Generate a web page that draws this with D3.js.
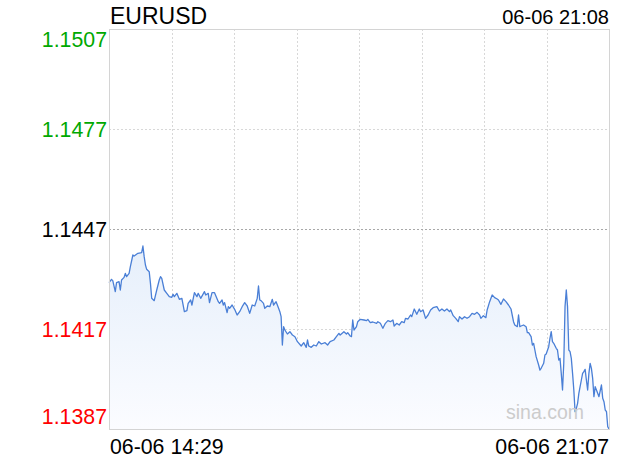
<!DOCTYPE html>
<html><head><meta charset="utf-8">
<script src="https://cdn.jsdelivr.net/npm/d3@7"></script>
<style>body{margin:0;background:#fff}svg{display:block}text{font-family:"Liberation Sans",Arial,sans-serif}</style>
</head><body><svg id="c" width="620" height="460"></svg>
<script>
const title = "EURUSD";
const stampTop = "06-06 21:08";
const xLabels = ["06-06 14:29", "06-06 21:07"];
const yTicks = [1.1507, 1.1477, 1.1447, 1.1417, 1.1387];
const prevClose = 1.1447;
const totalMinutes = 398;
// minute offset from 14:29
const minutes = [0,2,3,5,6,8,9,10,12,13,14,16,17,19,20,23,26,27,28,29,30,32,33,34,36,38,40,41,42,44,46,48,50,51,52,54,56,58,60,62,63,65,66,68,70,71,73,76,77,
79,80,82,84,87,88,90,91,92,94,95,96,98,100,102,104,106,108,110,112,114,116,118,119,120,121,123,124,126,128,130,131,133,135,136,137,138,139,140,142,144,146,148,150,153,155,
157,158,159,161,163,165,167,169,172,174,176,179,181,183,184,187,189,190,192,193,194,195,197,198,200,203,205,206,208,210,213,214,216,218,220,222,224,226,227,229,231,233,235,
236,238,240,241,243,245,247,248,250,252,254,256,258,261,263,265,267,269,271,272,274,276,278,279,281,283,285,287,289,291,293,295,296,298,300,301,303,305,307,309,310,312,314,316,318,320,322,323,
325,326,327,328,330,332,333,334,336,337,338,339,340,342,343,344,346,347,348,350,351,352,353,354,356,357,358,359,360,361,362,363,364,365,366,367,368,369,370,371,372,373,374,375,376,377,378,379,380,381,382,383,384,385,386,387,389,390,392,393,394,395,396,397,398];
const prices = [1.14309,1.14319,1.14315,1.14282,1.14309,1.14312,1.14287,1.14317,1.14325,1.14337,1.14327,1.14337,1.14357,1.14392,1.14389,1.14397,1.14399,1.14419,1.14387,1.14362,1.14349,1.14342,1.14307,1.14262,1.14255,1.14287,1.14317,1.14327,1.14322,1.14287,1.14277,1.14267,1.14265,1.14274,1.14267,1.14277,1.14259,1.14262,1.14222,1.14225,1.14247,1.14257,1.14242,1.14279,1.14267,1.14277,1.14262,1.14282,1.14272,
1.14277,1.14249,1.14279,1.14279,1.14252,1.14247,1.14257,1.14242,1.14249,1.14219,1.14237,1.14232,1.14242,1.14229,1.14212,1.14222,1.14237,1.14249,1.14239,1.14217,1.14242,1.14239,1.14262,1.14299,1.14257,1.14255,1.14247,1.14232,1.14239,1.14237,1.14259,1.14242,1.14252,1.14232,1.14222,1.14207,1.14122,1.14177,1.14167,1.14155,1.14162,1.14152,1.14147,1.14132,1.14119,1.14129,
1.14115,1.14137,1.14119,1.14115,1.14122,1.14119,1.14132,1.14125,1.14129,1.14122,1.14132,1.14137,1.14147,1.14157,1.14152,1.14162,1.14155,1.14159,1.14149,1.14147,1.14197,1.14167,1.14177,1.14192,1.14199,1.14197,1.14195,1.14199,1.14189,1.14191,1.14187,1.14192,1.14187,1.14172,1.14187,1.14195,1.14192,1.14197,1.14179,1.14187,1.14182,1.14192,1.14189,
1.14202,1.14200,1.14212,1.14207,1.14230,1.14214,1.14230,1.14222,1.14227,1.14202,1.14212,1.14227,1.14234,1.14237,1.14224,1.14230,1.14224,1.14230,1.14222,1.14227,1.14210,1.14202,1.14192,1.14207,1.14200,1.14207,1.14202,1.14207,1.14217,1.14214,1.14220,1.14212,1.14202,1.14210,1.14204,1.14227,1.14252,1.14272,1.14264,1.14260,1.14257,1.14244,1.14260,1.14252,1.14242,1.14230,1.14192,1.14182,
1.14177,1.14212,1.14177,1.14179,1.14182,1.14177,1.14159,1.14159,1.14147,1.14122,1.14127,1.14107,1.14087,1.14062,1.14047,1.14052,1.14067,1.14092,1.14095,1.14117,1.14142,1.14162,1.14132,1.14127,1.14112,1.14107,1.14077,1.14082,1.14037,1.13987,1.14067,1.14237,1.14287,1.14237,1.14107,1.14102,1.14082,1.14037,1.13987,1.13922,1.13932,1.13947,1.13977,1.13997,1.14017,1.14037,1.14042,1.14049,1.14017,1.13987,1.14037,1.14067,1.14052,1.14022,1.13967,1.13997,1.13977,1.13967,1.14002,1.13962,1.13952,1.13927,1.13922,1.13877,1.13870];

const data = minutes.map((m, i) => ({m, v: prices[i]}));
const L = 109, R = 609, T = 29, B = 429;
const svg = d3.select("#c");
const x = d3.scaleLinear().domain([0, totalMinutes]).range([L, R]);
const y = d3.scaleLinear().domain([yTicks[4], yTicks[0]]).range([B, T]);

const defs = svg.append("defs");
const grad = defs.append("linearGradient").attr("id","g").attr("x1",0).attr("y1",0).attr("x2",0).attr("y2",1);
grad.append("stop").attr("offset","0%").attr("stop-color","#e6effb");
grad.append("stop").attr("offset","100%").attr("stop-color","#fbfcff");

// vertical grid
const vt = d3.range(1, 8).map(i => i * totalMinutes / 8);
svg.append("g").selectAll("line").data(vt).join("line")
  .attr("x1", d => Math.round(x(d)) + 0.5).attr("x2", d => Math.round(x(d)) + 0.5)
  .attr("y1", T).attr("y2", B)
  .attr("stroke", "#d8d8d8").attr("stroke-dasharray", "2,2");
// horizontal grid
svg.append("g").selectAll("line").data(yTicks.slice(1, 4)).join("line")
  .attr("x1", L).attr("x2", R)
  .attr("y1", d => Math.round(y(d)) + 0.5).attr("y2", d => Math.round(y(d)) + 0.5)
  .attr("stroke", d => d === prevClose ? "#a8a8a8" : "#d8d8d8").attr("stroke-dasharray", "2,2");

// area + line
const area = d3.area().x(d => x(d.m)).y0(B).y1(d => y(d.v));
svg.append("path").datum(data).attr("d", area).attr("fill", "url(#g)");
const line = d3.line().x(d => x(d.m)).y(d => y(d.v));
svg.append("path").datum(data).attr("d", line).attr("fill", "none")
  .attr("stroke", "#4a7fd6").attr("stroke-width", 1.3).attr("stroke-linejoin", "round");

// border
svg.append("rect").attr("x", L + 0.5).attr("y", T + 0.5).attr("width", R - L).attr("height", B - T)
  .attr("fill", "none").attr("stroke", "#d4d4d4");

// watermark
svg.append("text").attr("x", 584).attr("y", 419).attr("text-anchor", "end")
  .attr("font-size", 19.5).attr("fill", "#cccccc").text("sina.com");

// y labels
const yCol = v => v > prevClose ? "#00a800" : (v < prevClose ? "#ff0000" : "#000000");
const yPos = (v, i) => i === 0 ? 47 : (i === yTicks.length - 1 ? 424 : Math.round(y(v)) + 7.5);
svg.append("g").selectAll("text").data(yTicks).join("text")
  .attr("x", 107).attr("y", (d, i) => yPos(d, i)).attr("text-anchor", "end")
  .attr("font-size", 21.3).attr("fill", d => yCol(d)).text(d => d.toFixed(4));

// title & stamps
svg.append("text").attr("x", 110).attr("y", 23.5).attr("font-size", 23).attr("fill", "#000").text(title);
svg.append("text").attr("x", 609).attr("y", 23.5).attr("text-anchor", "end").attr("font-size", 20).attr("fill", "#000").text(stampTop);
svg.append("text").attr("x", 110).attr("y", 454).attr("font-size", 21.3).attr("fill", "#000").text(xLabels[0]);
svg.append("text").attr("x", 609).attr("y", 454).attr("text-anchor", "end").attr("font-size", 21.3).attr("fill", "#000").text(xLabels[1]);
</script></body></html>
